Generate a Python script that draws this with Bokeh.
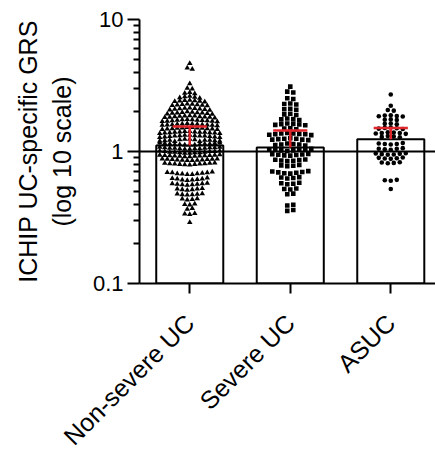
import math
import numpy as np
from bokeh.plotting import figure
from bokeh.models import Range1d, FixedTicker
from bokeh.embed import file_html
from bokeh.resources import INLINE

# ---- data -----------------------------------------------------------------
categories = ["Non-severe UC", "Severe UC", "ASUC"]
bar_means = [1.11, 1.07, 1.24]
err_upper = [1.55, 1.44, 1.51]

non_severe = [
    4.64,
    4.30, 4.20,
    3.27,
    3.02, 2.98,
    2.80, 2.77, 2.74,
    2.62, 2.60, 2.58, 2.56, 2.54,
    2.45, 2.44, 2.43, 2.42, 2.41, 2.40, 2.38,
    2.29, 2.28, 2.27, 2.26, 2.25, 2.24, 2.23, 2.22,
    2.14, 2.13, 2.12, 2.11, 2.10, 2.09, 2.08, 2.07, 2.06,
    2.00, 1.99, 1.98, 1.97, 1.96, 1.96, 1.95, 1.94, 1.93, 1.92,
    1.87, 1.86, 1.86, 1.85, 1.84, 1.84, 1.83, 1.82, 1.82, 1.81, 1.80,
    1.75, 1.74, 1.74, 1.73, 1.73, 1.72, 1.71, 1.71, 1.70, 1.70, 1.69, 1.68,
    1.63, 1.62, 1.62, 1.61, 1.61, 1.60, 1.60, 1.59, 1.59, 1.58, 1.58, 1.57,
    1.52, 1.52, 1.51, 1.51, 1.50, 1.50, 1.49, 1.49, 1.48, 1.48, 1.47, 1.47,
    1.42, 1.42, 1.41, 1.41, 1.40, 1.40, 1.40, 1.39, 1.39, 1.38, 1.38, 1.37, 1.37,
    1.33, 1.33, 1.32, 1.32, 1.31, 1.31, 1.31, 1.30, 1.30, 1.29, 1.29, 1.28, 1.28,
    1.24, 1.24, 1.23, 1.23, 1.22, 1.22, 1.22, 1.21, 1.21, 1.20, 1.20, 1.19, 1.19,
    1.16, 1.16, 1.15, 1.15, 1.14, 1.14, 1.14, 1.13, 1.13, 1.13, 1.12, 1.12, 1.12,
    1.08, 1.08, 1.07, 1.07, 1.07, 1.06, 1.06, 1.06, 1.05, 1.05, 1.05, 1.04, 1.04,
    1.01, 1.01, 1.00, 1.00, 1.00, 0.99, 0.99, 0.99, 0.98, 0.98, 0.98, 0.97, 0.97,
    0.945, 0.94, 0.94, 0.935, 0.935, 0.93, 0.93, 0.925, 0.925, 0.92, 0.92, 0.915, 0.915,
    0.88, 0.88, 0.875, 0.875, 0.87, 0.87, 0.865, 0.865, 0.86, 0.86, 0.855, 0.855,
    0.82, 0.815, 0.815, 0.81, 0.81, 0.805, 0.805, 0.80, 0.80, 0.795, 0.79,
    0.70, 0.695, 0.69, 0.69, 0.685, 0.68, 0.68, 0.675, 0.67, 0.67,
    0.63, 0.625, 0.62, 0.62, 0.615, 0.61, 0.61, 0.605,
    0.575, 0.57, 0.57, 0.565, 0.565, 0.56, 0.56, 0.555,
    0.525, 0.52, 0.52, 0.515, 0.515, 0.51,
    0.48, 0.478, 0.475, 0.472, 0.47, 0.468,
    0.44, 0.437, 0.434, 0.43,
    0.40, 0.397, 0.394,
    0.37, 0.366,
    0.34, 0.337, 0.334,
    0.29,
]

severe = [
    3.10,
    2.84, 2.80,
    2.53, 2.50,
    2.31, 2.29, 2.27,
    2.11, 2.09, 2.07,
    1.93, 1.91, 1.89,
    1.78, 1.76, 1.75, 1.73,
    1.63, 1.62, 1.61, 1.60, 1.59, 1.58,
    1.50, 1.49, 1.47,
    1.38, 1.37, 1.37, 1.36, 1.35, 1.35, 1.34, 1.33,
    1.26, 1.25, 1.25, 1.24, 1.23, 1.23, 1.22,
    1.15, 1.14, 1.13, 1.13, 1.12, 1.11,
    1.05, 1.04, 1.04, 1.03, 1.03, 1.02, 1.02, 1.01,
    0.96, 0.955, 0.95, 0.945, 0.94, 0.935, 0.93,
    0.87, 0.865, 0.86, 0.855, 0.85, 0.845,
    0.79, 0.785, 0.78, 0.775,
    0.71, 0.705, 0.70, 0.695, 0.69, 0.685, 0.68,
    0.64, 0.635, 0.63, 0.625,
    0.58, 0.575, 0.57, 0.565,
    0.525, 0.52, 0.515,
    0.48, 0.475,
    0.395, 0.39,
    0.36, 0.355,
]

asuc = [
    2.70,
    2.22,
    2.06, 2.04,
    1.88, 1.87, 1.86, 1.85, 1.84,
    1.75, 1.74, 1.73,
    1.63, 1.62, 1.61,
    1.52, 1.51, 1.50, 1.49, 1.48,
    1.40, 1.39, 1.38, 1.38, 1.37, 1.36,
    1.31, 1.30, 1.29, 1.28,
    1.16, 1.15, 1.14, 1.14, 1.13,
    1.06, 1.05, 1.05, 1.04, 1.03,
    0.97, 0.965, 0.96, 0.955, 0.95, 0.945,
    0.90, 0.895, 0.89, 0.885, 0.88,
    0.83, 0.825, 0.82, 0.815,
    0.61, 0.605, 0.60,
    0.52,
]

# ---- geometry helpers -----------------------------------------------------
LEFT, TOP = 139, 19
FRAME_W, FRAME_H = 296, 264
X_MAX = 2.945
PX_PER_UNIT = FRAME_W / X_MAX
PX_PER_DECADE = FRAME_H / 2.0
centers = [0.5, 1.5, 2.5]


def swarm(vals, center, row_px, step_px):
    """Column-scatter layout: points with close values share a row."""
    vals = np.asarray(vals, dtype=float)
    ly = np.log10(vals) * PX_PER_DECADE
    order = np.argsort(-ly, kind="stable")
    rows, cur, start = [], [], None
    for i in order:
        if cur and ly[start] - ly[i] > row_px:
            rows.append(cur)
            cur = []
        if not cur:
            start = i
        cur.append(i)
    if cur:
        rows.append(cur)
    mid = np.median(ly)
    xs = np.zeros(len(vals))
    for r in rows:
        # value farthest from the group centre sits in the middle of its row
        r = sorted(r, key=lambda i: -abs(ly[i] - mid))
        n = len(r)
        slots = sorted(range(n), key=lambda k: (abs(k - (n - 1) / 2), k))
        for i, k in zip(r, slots):
            xs[i] = center + (k - (n - 1) / 2) * step_px / PX_PER_UNIT
    return xs


# ---- figure ---------------------------------------------------------------
p = figure(frame_width=FRAME_W, frame_height=FRAME_H, y_axis_type="log",
           x_range=Range1d(0, X_MAX), y_range=Range1d(0.1, 10),
           output_backend="svg", toolbar_location=None,
           min_border_left=LEFT, min_border_right=0,
           min_border_top=TOP, min_border_bottom=150)
p.outline_line_color = None
p.xgrid.visible = False
p.ygrid.visible = False
p.background_fill_color = "white"
p.border_fill_color = "white"

# bars (means)
p.vbar(x=centers, top=bar_means, bottom=0.1, width=0.667,
       fill_color="white", line_color="black", line_width=2)

# reference line at 1
p.line(x=[0, X_MAX], y=[1, 1], line_color="black", line_width=2)

# individual points
p.scatter(x=swarm(non_severe, centers[0], 3.2, 5.0), y=non_severe,
          marker="triangle", size=5.5, fill_color="black", line_color=None)
p.scatter(x=swarm(severe, centers[1], 3.6, 6.0), y=severe,
          marker="square", size=4.6, fill_color="black", line_color=None)
p.scatter(x=swarm(asuc, centers[2], 3.6, 6.0), y=asuc,
          marker="circle", size=4.6, fill_color="black", line_color=None)

# error bars (upper only)
red = "#e0252b"
half_cap = 0.17
p.segment(x0=centers, y0=bar_means, x1=centers, y1=err_upper,
          line_color=red, line_width=2.5)
p.segment(x0=[c - half_cap for c in centers], y0=err_upper,
          x1=[c + half_cap for c in centers], y1=err_upper,
          line_color=red, line_width=2.5)

# ---- axes -----------------------------------------------------------------
FONT = "Liberation Sans"
for ax in (p.xaxis[0], p.yaxis[0]):
    ax.axis_line_width = 2
    ax.axis_line_color = "black"
    ax.major_tick_line_width = 2
    ax.major_tick_line_color = "black"
    ax.minor_tick_line_width = 2
    ax.minor_tick_line_color = "black"
    ax.major_tick_in = 0
    ax.minor_tick_in = 0
    ax.major_label_text_font = FONT
    ax.major_label_text_color = "black"

yax = p.yaxis[0]
yax.ticker = FixedTicker(ticks=[0.1, 1, 10],
                         minor_ticks=[0.2, 0.3, 0.4, 0.5, 0.6, 0.7, 0.8, 0.9,
                                      2, 3, 4, 5, 6, 7, 8, 9])
yax.major_label_overrides = {0.1: "0.1", 1: "1", 10: "10"}
yax.major_tick_out = 12
yax.minor_tick_out = 6
yax.major_label_text_font_size = "22px"
yax.major_label_standoff = 4
yax.axis_label = "ICHIP UC-specific GRS\n(log 10 scale)"
yax.axis_label_text_font = FONT
yax.axis_label_text_font_size = "25px"
yax.axis_label_text_font_style = "normal"
yax.axis_label_text_color = "black"
yax.axis_label_standoff = 14

xax = p.xaxis[0]
xax.ticker = FixedTicker(ticks=centers)
xax.major_label_overrides = {c: name for c, name in zip(centers, categories)}
xax.major_tick_out = 10
xax.minor_tick_line_color = None
xax.major_label_orientation = math.pi / 4
xax.major_label_text_font_size = "25px"
xax.major_label_standoff = 25

open("out.html", "w").write(file_html(p, INLINE))
